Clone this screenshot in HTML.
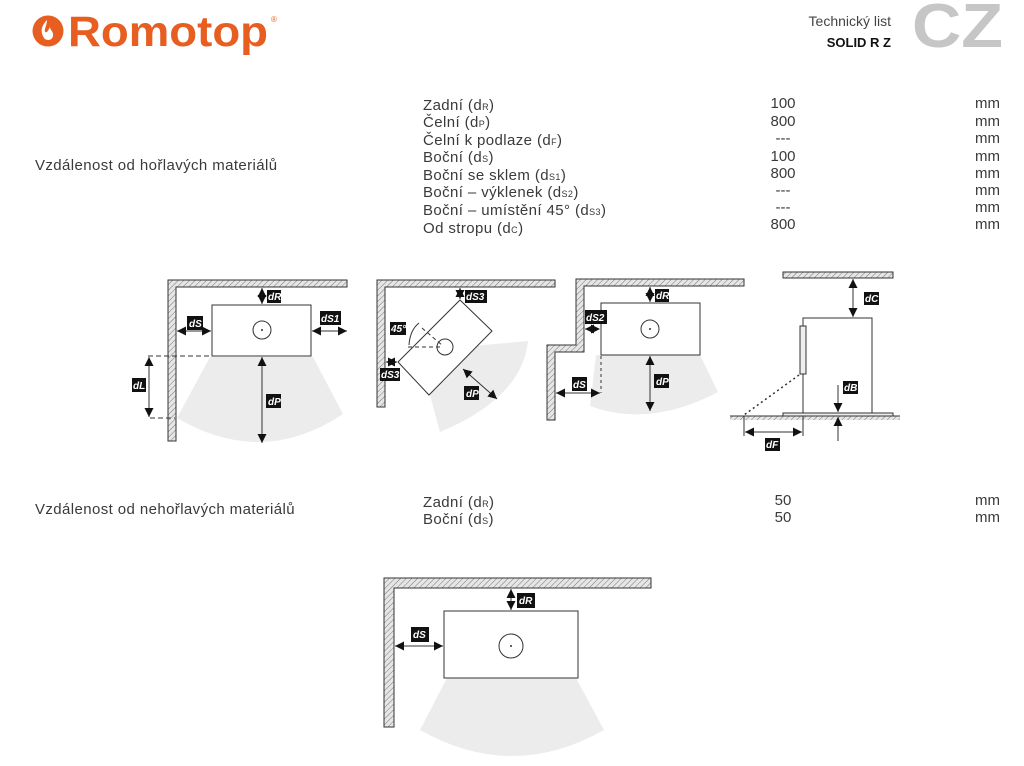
<!DOCTYPE html>
<html><head><meta charset="utf-8"><style>
html,body{margin:0;padding:0;background:#fff;}
svg{display:block;}
text{font-family:"Liberation Sans",sans-serif;}
</style></head><body>
<svg width="1024" height="766" viewBox="0 0 1024 766" xmlns="http://www.w3.org/2000/svg">
<defs>
<pattern id="h" width="4" height="4" patternUnits="userSpaceOnUse" patternTransform="rotate(45)">
<rect width="4" height="4" fill="#e6e6e6"/><line x1="0" y1="0" x2="0" y2="4" stroke="#777" stroke-width="1"/></pattern>
<marker id="a" viewBox="0 0 10 10" refX="10" refY="5" markerWidth="9" markerHeight="9" orient="auto-start-reverse"><path d="M0,0 L10,5 L0,10 Z" fill="#111"/></marker>
</defs>
<!-- header -->
<circle cx="48" cy="31" r="15.5" fill="#e85d20"/>
<path d="M47,20 C40,27 41,33 44,38 C46,41 52,41 53,36 C54,32 50,30 50,27 C48,31 47,33 45,32 C44,29 47,25 47,20 Z" fill="#fff"/>
<text x="68" y="46" font-size="43" font-weight="bold" fill="#e85d20" textLength="200" lengthAdjust="spacingAndGlyphs">Romotop</text>
<text x="271" y="22" font-size="8" fill="#e85d20">®</text>
<text x="891" y="26" font-size="14" fill="#444" text-anchor="end">Technický list</text>
<text x="891" y="47" font-size="13" font-weight="bold" fill="#111" text-anchor="end">SOLID R Z</text>
<text x="912" y="47" font-size="62" font-weight="bold" fill="#c6c6c6" textLength="91" lengthAdjust="spacingAndGlyphs">CZ</text>

<g font-size="15" fill="#3a3a3a" letter-spacing="0.4">
<text x="35" y="170">Vzdálenost od hořlavých materiálů</text>
<text x="423" y="110">Zadní (d<tspan font-size="9">R</tspan>)</text>
<text x="423" y="127">Čelní (d<tspan font-size="9">P</tspan>)</text>
<text x="423" y="145">Čelní k podlaze (d<tspan font-size="9">F</tspan>)</text>
<text x="423" y="162">Boční (d<tspan font-size="9">S</tspan>)</text>
<text x="423" y="180">Boční se sklem (d<tspan font-size="9">S1</tspan>)</text>
<text x="423" y="197">Boční – výklenek (d<tspan font-size="9">S2</tspan>)</text>
<text x="423" y="215">Boční – umístění 45° (d<tspan font-size="9">S3</tspan>)</text>
<text x="423" y="233">Od stropu (d<tspan font-size="9">C</tspan>)</text>
<g text-anchor="middle" letter-spacing="0">
<text x="783" y="108">100</text><text x="783" y="126">800</text><text x="783" y="143">---</text><text x="783" y="161">100</text><text x="783" y="178">800</text><text x="783" y="195">---</text><text x="783" y="212">---</text><text x="783" y="229">800</text>
</g>
<g text-anchor="end" letter-spacing="0">
<text x="1000" y="108">mm</text><text x="1000" y="126">mm</text><text x="1000" y="143">mm</text><text x="1000" y="161">mm</text><text x="1000" y="178">mm</text><text x="1000" y="195">mm</text><text x="1000" y="212">mm</text><text x="1000" y="229">mm</text>
</g>
<text x="35" y="514">Vzdálenost od nehořlavých materiálů</text>
<text x="423" y="507">Zadní (d<tspan font-size="9">R</tspan>)</text>
<text x="423" y="524">Boční (d<tspan font-size="9">S</tspan>)</text>
<text x="783" y="505" text-anchor="middle" letter-spacing="0">50</text><text x="783" y="522" text-anchor="middle" letter-spacing="0">50</text>
<text x="1000" y="505" text-anchor="end" letter-spacing="0">mm</text><text x="1000" y="522" text-anchor="end" letter-spacing="0">mm</text>
</g>

<g stroke="#333" stroke-width="1" fill="none">
<!-- diagram 1 -->
<path d="M210,357 L313,357 L343,414 Q262,468 177,418 Z" fill="#ececec" stroke="none"/>
<path d="M168,280 H347 V287 H176 V441 H168 Z" fill="url(#h)"/>
<rect x="212" y="305" width="99" height="51" fill="#fff"/>
<circle cx="262" cy="330" r="9"/>
<line x1="262" y1="288" x2="262" y2="304" marker-start="url(#a)" marker-end="url(#a)"/>
<line x1="177" y1="331" x2="211" y2="331" marker-start="url(#a)" marker-end="url(#a)"/>
<line x1="312" y1="331" x2="347" y2="331" marker-start="url(#a)" marker-end="url(#a)"/>
<line x1="149" y1="357" x2="149" y2="417" marker-start="url(#a)" marker-end="url(#a)"/>
<line x1="262" y1="357" x2="262" y2="443" marker-start="url(#a)" marker-end="url(#a)"/>
<line x1="148" y1="356" x2="212" y2="356" stroke-dasharray="5,3"/>
<line x1="150" y1="418" x2="175" y2="418" stroke-dasharray="5,3"/>
<!-- diagram 2 -->
<path d="M462,347 L528,341 Q522,398 440,432 L430,395 Z" fill="#ececec" stroke="none"/>
<path d="M377,280 H555 V287 H385 V407 H377 Z" fill="url(#h)"/>
<path d="M460,300 L492,331 L429,395 L398,362 Z" fill="#fff"/>
<circle cx="445" cy="347" r="8"/>
<line x1="408" y1="347" x2="443" y2="347" stroke-dasharray="4,3"/>
<line x1="422" y1="328" x2="443" y2="346" stroke-dasharray="4,3"/>
<path d="M409,345 Q410,330 419,323"/>
<line x1="460" y1="288" x2="460" y2="299" marker-start="url(#a)" marker-end="url(#a)"/>
<line x1="386" y1="362" x2="397" y2="362" marker-start="url(#a)" marker-end="url(#a)"/>
<line x1="463" y1="369" x2="497" y2="399" marker-start="url(#a)" marker-end="url(#a)"/>
<!-- diagram 3 -->
<path d="M596,355 L700,355 L718,392 Q650,428 590,406 Z" fill="#ececec" stroke="none"/>
<path d="M576,279 H744 V286 H584 V352 H555 V420 H547 V345 H576 Z" fill="url(#h)"/>
<rect x="601" y="303" width="99" height="52" fill="#fff"/>
<circle cx="650" cy="329" r="9"/>
<line x1="650" y1="287" x2="650" y2="302" marker-start="url(#a)" marker-end="url(#a)"/>
<line x1="585" y1="329" x2="600" y2="329" marker-start="url(#a)" marker-end="url(#a)" stroke-dasharray="3,2"/>
<line x1="601" y1="356" x2="601" y2="393" stroke-dasharray="3,3"/>
<line x1="556" y1="393" x2="600" y2="393" marker-start="url(#a)" marker-end="url(#a)"/>
<line x1="650" y1="356" x2="650" y2="411" marker-start="url(#a)" marker-end="url(#a)"/>
<!-- diagram 4 -->
<rect x="783" y="272" width="110" height="6" fill="url(#h)"/>
<rect x="730" y="416" width="170" height="4" fill="url(#h)" stroke="none"/>
<line x1="730" y1="416" x2="900" y2="416"/>
<rect x="783" y="413" width="110" height="3" fill="#eee"/>
<rect x="803" y="318" width="69" height="95" fill="#fff"/>
<rect x="800" y="326" width="6" height="48" fill="#eee"/>
<line x1="853" y1="279" x2="853" y2="317" marker-start="url(#a)" marker-end="url(#a)"/>
<line x1="799" y1="375" x2="744" y2="415" stroke-dasharray="2,3" stroke-width="1.5"/>
<line x1="744" y1="416" x2="744" y2="436"/><line x1="803" y1="416" x2="803" y2="436"/>
<line x1="745" y1="432" x2="802" y2="432" marker-start="url(#a)" marker-end="url(#a)"/>
<line x1="838" y1="385" x2="838" y2="412" marker-end="url(#a)"/>
<line x1="838" y1="441" x2="838" y2="417" marker-end="url(#a)"/>
<!-- diagram 5 -->
<path d="M447,678 L576,678 L604,730 Q512,782 420,730 Z" fill="#ececec" stroke="none"/>
<path d="M384,578 H651 V588 H394 V727 H384 Z" fill="url(#h)"/>
<rect x="444" y="611" width="134" height="67" fill="#fff"/>
<circle cx="511" cy="646" r="12"/>
<line x1="511" y1="589" x2="511" y2="610" marker-start="url(#a)" marker-end="url(#a)"/>
<line x1="395" y1="646" x2="443" y2="646" marker-start="url(#a)" marker-end="url(#a)"/>
</g>
<circle cx="262" cy="330" r="1" fill="#333"/><circle cx="650" cy="329" r="1" fill="#333"/><circle cx="511" cy="646" r="1" fill="#333"/>
<!-- labels -->
<g font-size="10" font-weight="bold" font-style="italic" fill="#fff">
<rect x="267" y="290" width="14" height="13" fill="#111"/><text x="268" y="300">dR</text>
<rect x="187" y="316" width="16" height="14" fill="#111"/><text x="189" y="327">dS</text>
<rect x="320" y="311" width="21" height="14" fill="#111"/><text x="321" y="322">dS1</text>
<rect x="132" y="378" width="14" height="14" fill="#111"/><text x="133" y="389">dL</text>
<rect x="266" y="394" width="15" height="14" fill="#111"/><text x="268" y="405">dP</text>
<rect x="465" y="290" width="22" height="13" fill="#111"/><text x="466" y="300">dS3</text>
<rect x="390" y="322" width="16" height="13" fill="#111"/><text x="391" y="332">45°</text>
<rect x="380" y="368" width="20" height="13" fill="#111"/><text x="381" y="378">dS3</text>
<rect x="464" y="386" width="15" height="14" fill="#111"/><text x="466" y="397">dP</text>
<rect x="655" y="289" width="14" height="13" fill="#111"/><text x="656" y="299">dR</text>
<rect x="585" y="310" width="22" height="14" fill="#111"/><text x="586" y="321">dS2</text>
<rect x="572" y="377" width="15" height="14" fill="#111"/><text x="573" y="388">dS</text>
<rect x="654" y="374" width="15" height="14" fill="#111"/><text x="656" y="385">dP</text>
<rect x="864" y="292" width="15" height="13" fill="#111"/><text x="865" y="302">dC</text>
<rect x="843" y="381" width="15" height="13" fill="#111"/><text x="844" y="391">dB</text>
<rect x="765" y="438" width="15" height="13" fill="#111"/><text x="766" y="448">dF</text>
<rect x="517" y="593" width="18" height="15" fill="#111"/><text x="519" y="604">dR</text>
<rect x="411" y="627" width="18" height="15" fill="#111"/><text x="413" y="638">dS</text>
</g>
</svg>
</body></html>
